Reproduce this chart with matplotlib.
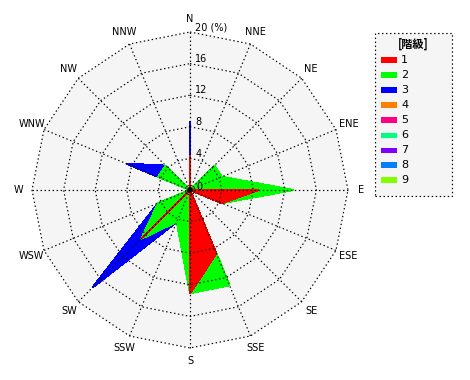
import numpy as np
import matplotlib
matplotlib.use("Agg")
import matplotlib.pyplot as plt
from matplotlib.patches import Polygon, Rectangle, Circle

# ---- data (percent of observations per direction, by class) ----
directions = ['N', 'NNE', 'NE', 'ENE', 'E', 'ESE', 'SE', 'SSE',
              'S', 'SSW', 'SW', 'WSW', 'W', 'WNW', 'NW', 'NNW']
class1 = [4.35, 0, 0, 0, 8.7, 4.35, 0, 8.7, 13.05, 0, 8.7, 0, 0, 0, 0, 0]
class2 = [0, 0, 4.35, 4.35, 4.35, 0, 0, 4.35, 0, 4.35, 0, 4.35, 0, 4.35, 4.35, 0]
class3 = [4.35, 0, 0, 0, 0, 0, 0, 0, 0, 0, 8.7, 0, 0, 4.35, 0, 0]
ring_values = [4, 8, 12, 16, 20]
ring_labels = ['4', '8', '12', '16', '20 (%)']
legend_title = '[階級]'
legend_labels = ['1', '2', '3', '4', '5', '6', '7', '8', '9']
legend_colors = ['#ff0000', '#00ff00', '#0000ff', '#ff8000', '#ff0080',
                 '#00ff80', '#8000ff', '#0080ff', '#80ff00']

W, H = 470, 380
fig = plt.figure(figsize=(W / 100, H / 100), dpi=100)
fig.patch.set_facecolor('white')

S = 7.9  # pixels per percent
cx, cy = 190, 190
ax = fig.add_axes([0, 0, 1, 1])
ax.set_xlim(-cx / S, (W - cx) / S)
ax.set_ylim(-(H - cy) / S, cy / S)
ax.axis('off')

theta = np.deg2rad(np.arange(16) * 22.5)
sx, sy = np.sin(theta), np.cos(theta)

# background inside outer ring
rmax = ring_values[-1]
ax.add_patch(Polygon(np.column_stack([rmax * sx, rmax * sy]), closed=True,
                     facecolor='#f5f5f5', edgecolor='none', zorder=0))

# cumulative polygons (outer first)
cum1 = np.array(class1)
cum2 = cum1 + np.array(class2)
cum3 = cum2 + np.array(class3)
for cum, col in [(cum3, legend_colors[2]), (cum2, legend_colors[1]), (cum1, legend_colors[0])]:
    ax.add_patch(Polygon(np.column_stack([cum * sx, cum * sy]), closed=True,
                         facecolor=col, edgecolor=col, lw=0.8,
                         antialiased=False, zorder=2))

# grid
dot = (0, (1.2, 2.2))
glw = 0.85
for r in ring_values:
    xs = np.append(r * sx, r * sx[0])
    ys = np.append(r * sy, r * sy[0])
    ax.plot(xs, ys, color='black', lw=glw, linestyle=dot, zorder=3)
for i in range(16):
    ax.plot([0, rmax * sx[i]], [0, rmax * sy[i]], color='black', lw=glw,
            linestyle=dot, zorder=3)
ax.add_patch(Circle((0, 0), 0.28, color='black', zorder=4))

# labels
fs = 7
for i, d in enumerate(directions):
    ax.text(21.7 * sx[i], 21.7 * sy[i], d, ha='center', va='center',
            fontsize=fs, family='DejaVu Sans', zorder=5)
for r, lab in zip(ring_values, ring_labels):
    ax.text(0.65, r + 0.6, lab, ha='left', va='center', fontsize=fs,
            family='DejaVu Sans', zorder=5)
ax.text(0.75, 0.35, '0', ha='left', va='center', fontsize=fs,
        family='DejaVu Sans', zorder=5)

# legend box
def fx(x):
    return x / W

def fy(y):
    return 1 - y / H

fig.add_artist(Rectangle((fx(375), fy(196)), 77 / W, 163 / H, transform=fig.transFigure,
                         facecolor='#f5f5f5', edgecolor='black', lw=glw,
                         linestyle=dot))
fig.text(fx(413), fy(44), legend_title, ha='center', va='center', fontsize=8,
         family=['Noto Sans CJK JP', 'DejaVu Sans'], fontweight='bold')
for i, (lab, col) in enumerate(zip(legend_labels, legend_colors)):
    yc = 60 + 15 * i
    fig.add_artist(Rectangle((fx(381), fy(yc + 2.5)), 16 / W, 5 / H,
                             transform=fig.transFigure, facecolor=col,
                             edgecolor='none', antialiased=False))
    fig.text(fx(401), fy(yc), lab, ha='left', va='center', fontsize=8,
             family='DejaVu Sans')

fig.savefig('out.png', dpi=100)
